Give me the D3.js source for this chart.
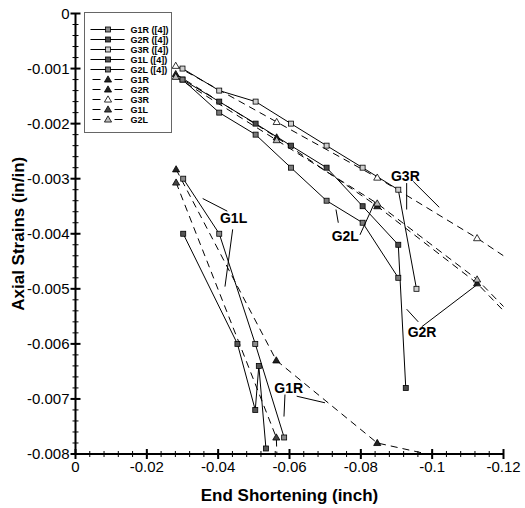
<!DOCTYPE html>
<html>
<head>
<meta charset="utf-8">
<script src="https://cdn.jsdelivr.net/npm/d3@7"></script>
<style>
body { margin: 0; background: #fff; }
svg text { font-family: Arial, "Liberation Sans", sans-serif; }
</style>
</head>
<body>
<div id="graphic"></div>
<script>
// ---- data (end shortening in inch, axial strain in/in) ----

// test results, ref [4]
var g1rTest = [[-0.0302, -0.0030], [-0.0403, -0.0040], [-0.0504, -0.0060], [-0.0585, -0.0077]];
var g2rTest = [[-0.0300, -0.0012], [-0.0403, -0.0016], [-0.0505, -0.0020], [-0.0604, -0.0024],
	[-0.0704, -0.0028], [-0.0805, -0.0035], [-0.0905, -0.0042], [-0.0926, -0.0068]];
var g3rTest = [[-0.0300, -0.0010], [-0.0403, -0.0014], [-0.0505, -0.0016], [-0.0604, -0.0020],
	[-0.0704, -0.0024], [-0.0805, -0.0028], [-0.0905, -0.0032], [-0.0956, -0.0050]];
var g1lTest = [[-0.0302, -0.0040], [-0.0454, -0.0060], [-0.0504, -0.0072], [-0.0514, -0.0064], [-0.0534, -0.0079]];
var g2lTest = [[-0.0300, -0.0012], [-0.0403, -0.0018], [-0.0505, -0.0022], [-0.0604, -0.0028],
	[-0.0704, -0.0034], [-0.0805, -0.0038], [-0.0905, -0.0048]];

// model results
var g1rModel = [[-0.0282, -0.00283], [-0.0563, -0.0063], [-0.0846, -0.0078], [-0.1126, -0.0082]];
var g2rModel = [[-0.0281, -0.0011], [-0.0564, -0.00225], [-0.0846, -0.0035], [-0.1126, -0.0049], [-0.1408, -0.0068]];
var g3rModel = [[-0.0281, -0.00095], [-0.0564, -0.00197], [-0.0846, -0.00298], [-0.1126, -0.00408], [-0.1408, -0.0053]];
var g1lModel = [[-0.0282, -0.00307], [-0.0563, -0.0077], [-0.0568, -0.0086]];
var g2lModel = [[-0.0281, -0.00115], [-0.0564, -0.0023], [-0.0846, -0.00345], [-0.1126, -0.00483], [-0.1408, -0.0067]];

var testNames = ['G1R ([4])', 'G2R ([4])', 'G3R ([4])', 'G1L ([4])', 'G2L ([4])'];
var modelNames = ['G1R', 'G2R', 'G3R', 'G1L', 'G2L'];

var xTicks = [0, -0.02, -0.04, -0.06, -0.08, -0.1, -0.12];
var yTicks = [0, -0.001, -0.002, -0.003, -0.004, -0.005, -0.006, -0.007, -0.008];

// callout labels: text anchor and two leader lines each, in data units
var callouts = [
	{text: 'G3R', at: [-0.08845, -0.00305], lines: [[[-0.09285, -0.00308], [-0.09285, -0.00356]], [[-0.0947, -0.00305], [-0.10199, -0.00352]]]},
	{text: 'G2L', at: [-0.07183, -0.00414], lines: [[[-0.07303, -0.00356], [-0.07368, -0.0038]], [[-0.07976, -0.00402], [-0.08397, -0.00342]]]},
	{text: 'G2R', at: [-0.09313, -0.005875], lines: [[[-0.09285, -0.00537], [-0.0961, -0.0056]], [[-0.09706, -0.00569], [-0.11248, -0.00493]]]},
	{text: 'G1L', at: [-0.04051, -0.003805], lines: [[[-0.03566, -0.00336], [-0.04256, -0.00359]], [[-0.04407, -0.00392], [-0.04191, -0.00496]]]},
	{text: 'G1R', at: [-0.05573, -0.006892], lines: [[[-0.05873, -0.00692], [-0.05845, -0.00732]], [[-0.06201, -0.00695], [-0.06995, -0.00707]]]}
];

renderGraphic({container: 'graphic', width: 525, height: 508});

function renderGraphic(config) {

	var margins = {top: 13.5, right: 21.5, bottom: 54, left: 75.5};
	var chartWidth = config.width - margins.left - margins.right;
	var chartHeight = config.height - margins.top - margins.bottom;

	var svg = d3.select('#' + config.container).append('svg')
		.attr('width', config.width)
		.attr('height', config.height);

	var chartElement = svg.append('g')
		.attr('transform', 'translate(' + margins.left + ',' + margins.top + ')');

	var x = d3.scaleLinear().domain([0, -0.12]).range([0, chartWidth]);
	var y = d3.scaleLinear().domain([0, -0.008]).range([0, chartHeight]);

	svg.append('defs').append('clipPath').attr('id', 'plotclip')
		.append('rect')
		.attr('width', chartWidth)
		.attr('height', chartHeight);

	var tests = [
		{name: testNames[0], values: g1rTest, fill: '#8a8a8a'},
		{name: testNames[1], values: g2rTest, fill: '#4a4a4a'},
		{name: testNames[2], values: g3rTest, fill: '#cfcfcf'},
		{name: testNames[3], values: g1lTest, fill: '#555555'},
		{name: testNames[4], values: g2lTest, fill: '#7a7a7a'}
	];
	var models = [
		{name: modelNames[0], values: g1rModel, fill: '#222'},
		{name: modelNames[1], values: g2rModel, fill: '#222'},
		{name: modelNames[2], values: g3rModel, fill: '#fff'},
		{name: modelNames[3], values: g1lModel, fill: '#444'},
		{name: modelNames[4], values: g2lModel, fill: '#bbb'}
	];

	var line = d3.line()
		.x(function(d) {return x(d[0]);})
		.y(function(d) {return y(d[1]);});

	var tri = d3.symbol().type(d3.symbolTriangle).size(22);

	var plot = chartElement.append('g').attr('clip-path', 'url(#plotclip)');

	// 1. model curves, dashed
	plot.selectAll('path.model')
		.data(models).enter()
		.append('path')
		.attr('class', 'model')
		.attr('d', function(d) {return line(d.values);})
		.attr('fill', 'none')
		.attr('stroke', '#000')
		.attr('stroke-width', 1)
		.attr('stroke-dasharray', '7,5');

	// 2. test curves, solid
	plot.selectAll('path.test')
		.data(tests).enter()
		.append('path')
		.attr('class', 'test')
		.attr('d', function(d) {return line(d.values);})
		.attr('fill', 'none')
		.attr('stroke', '#000')
		.attr('stroke-width', 1);

	// 3. markers
	models.forEach(function(s) {
		plot.selectAll(null)
			.data(s.values).enter()
			.append('path')
			.attr('d', tri)
			.attr('transform', function(d) {return 'translate(' + x(d[0]) + ',' + (y(d[1]) + 0.5) + ')';})
			.attr('fill', s.fill)
			.attr('stroke', '#000')
			.attr('stroke-width', 0.8);
	});
	tests.forEach(function(s) {
		plot.selectAll(null)
			.data(s.values).enter()
			.append('rect')
			.attr('x', function(d) {return x(d[0]) - 2.5;})
			.attr('y', function(d) {return y(d[1]) - 2.5;})
			.attr('width', 5)
			.attr('height', 5)
			.attr('fill', s.fill)
			.attr('stroke', '#000')
			.attr('stroke-width', 0.8);
	});

	// 4. callouts
	var ann = chartElement.append('g').attr('class', 'annotations')
		.selectAll('g')
		.data(callouts).enter()
		.append('g');
	ann.selectAll('line')
		.data(function(d) {return d.lines;}).enter()
		.append('line')
		.attr('x1', function(d) {return x(d[0][0]);})
		.attr('y1', function(d) {return y(d[0][1]);})
		.attr('x2', function(d) {return x(d[1][0]);})
		.attr('y2', function(d) {return y(d[1][1]);})
		.attr('stroke', '#000')
		.attr('stroke-width', 1);
	ann.append('text')
		.attr('x', function(d) {return x(d.at[0]);})
		.attr('y', function(d) {return y(d.at[1]);})
		.attr('font-size', 14)
		.attr('font-weight', 'bold')
		.text(function(d) {return d.text;});

	// 5. axes
	var axes = chartElement.append('g').attr('class', 'axis');
	axes.append('line')
		.attr('x1', 0).attr('x2', chartWidth)
		.attr('y1', chartHeight).attr('y2', chartHeight)
		.attr('stroke', '#000').attr('stroke-width', 2);
	axes.append('line')
		.attr('x1', 0).attr('x2', 0)
		.attr('y1', 0).attr('y2', chartHeight)
		.attr('stroke', '#000').attr('stroke-width', 2);

	var xMinor = d3.range(0, 31).map(function(i) {return -i * 0.004;});
	var yMinor = d3.range(0, 41).map(function(i) {return -i * 0.0002;});

	axes.selectAll('line.xminor')
		.data(xMinor).enter()
		.append('line')
		.attr('x1', function(d) {return x(d);}).attr('x2', function(d) {return x(d);})
		.attr('y1', chartHeight - 3).attr('y2', chartHeight + 3)
		.attr('stroke', '#000').attr('stroke-width', 1);
	axes.selectAll('line.yminor')
		.data(yMinor).enter()
		.append('line')
		.attr('y1', function(d) {return y(d);}).attr('y2', function(d) {return y(d);})
		.attr('x1', -3).attr('x2', 3)
		.attr('stroke', '#000').attr('stroke-width', 1);

	var xt = axes.selectAll('g.xtick')
		.data(xTicks).enter()
		.append('g')
		.attr('transform', function(d) {return 'translate(' + x(d) + ',' + chartHeight + ')';});
	xt.append('line').attr('y1', -5).attr('y2', 5).attr('stroke', '#000').attr('stroke-width', 2);
	xt.append('text')
		.attr('y', 18)
		.attr('text-anchor', 'middle')
		.attr('font-size', 15)
		.text(function(d) {return String(d);});

	var yt = axes.selectAll('g.ytick')
		.data(yTicks).enter()
		.append('g')
		.attr('transform', function(d) {return 'translate(0,' + y(d) + ')';});
	yt.append('line').attr('x1', -5).attr('x2', 5).attr('stroke', '#000').attr('stroke-width', 2);
	yt.append('text')
		.attr('x', -6)
		.attr('dy', '0.35em')
		.attr('text-anchor', 'end')
		.attr('font-size', 15)
		.text(function(d) {return String(d);});

	svg.append('text')
		.attr('x', margins.left + chartWidth / 2)
		.attr('y', 501)
		.attr('text-anchor', 'middle')
		.attr('font-size', 17)
		.attr('font-weight', 'bold')
		.text('End Shortening (inch)');
	svg.append('text')
		.attr('transform', 'translate(24,' + (margins.top + chartHeight / 2) + ') rotate(-90)')
		.attr('text-anchor', 'middle')
		.attr('font-size', 17)
		.attr('font-weight', 'bold')
		.text('Axial Strains (in/in)');

	// 6. legend
	var legend = chartElement.append('g')
		.attr('transform', 'translate(' + (84.5 - margins.left) + ',' + (12.5 - margins.top) + ')');
	legend.append('rect')
		.attr('width', 87).attr('height', 120)
		.attr('fill', '#fff')
		.attr('stroke', '#666').attr('stroke-width', 1);

	var entries = tests.map(function(d) {return {name: d.name, fill: d.fill, test: true};})
		.concat(models.map(function(d) {return {name: d.name, fill: d.fill, test: false};}));

	var le = legend.selectAll('g.entry')
		.data(entries).enter()
		.append('g')
		.attr('transform', function(d, i) {return 'translate(0,' + (17 + i * 10) + ')';});
	le.each(function(d) {
		var g = d3.select(this);
		if (d.test) {
			g.append('line').attr('x1', 6).attr('x2', 40).attr('stroke', '#000').attr('stroke-width', 1);
			g.append('rect').attr('x', 21).attr('y', -2.5).attr('width', 5).attr('height', 5)
				.attr('fill', d.fill).attr('stroke', '#000').attr('stroke-width', 0.8);
		} else {
			g.append('line').attr('x1', 8).attr('x2', 16).attr('stroke', '#000').attr('stroke-width', 1);
			g.append('line').attr('x1', 30).attr('x2', 38).attr('stroke', '#000').attr('stroke-width', 1);
			g.append('path').attr('d', tri).attr('transform', 'translate(23.5,0.5)')
				.attr('fill', d.fill).attr('stroke', '#000').attr('stroke-width', 0.8);
		}
		g.append('text')
			.attr('x', 46)
			.attr('dy', '0.35em')
			.attr('font-size', 9)
			.attr('font-weight', 'bold')
			.text(d.name);
	});

} // end of renderGraphic()
</script>
</body>
</html>
